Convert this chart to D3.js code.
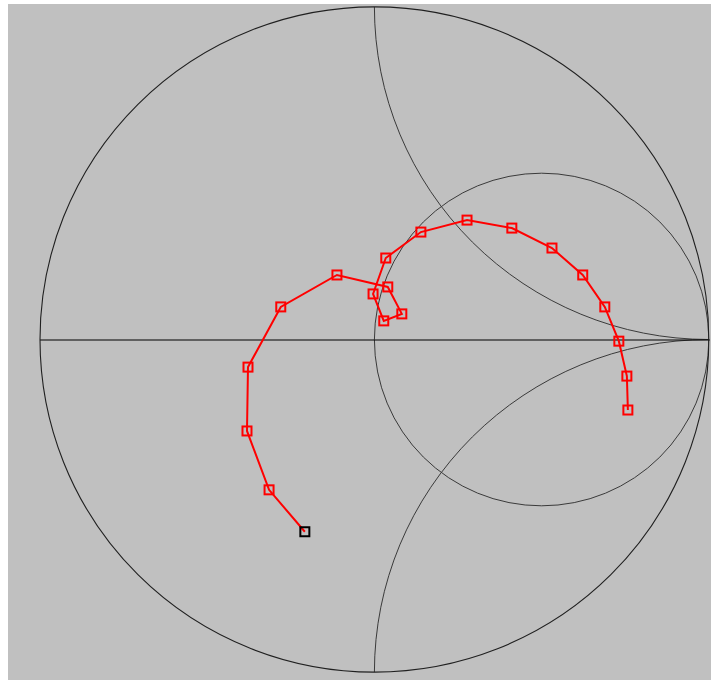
<!DOCTYPE html>
<html>
<head>
<meta charset="utf-8">
<script src="https://cdn.jsdelivr.net/npm/d3@7"></script>
<style>
  html, body { margin: 0; padding: 0; background: #ffffff; }
  svg { display: block; }
</style>
</head>
<body>
<svg id="chart" width="711" height="680"></svg>
<script>
// Reflection coefficient trace (real and imaginary parts), in sweep order
const gammaRe = [-0.208, -0.315, -0.381, -0.378, -0.280, -0.112, 0.040, 0.082, 0.028, -0.004,
                 0.034, 0.139, 0.277, 0.411, 0.531, 0.623, 0.689, 0.731, 0.755, 0.758];
const gammaIm = [-0.578, -0.452, -0.275, -0.083, 0.098, 0.194, 0.158, 0.077, 0.056, 0.137,
                 0.245, 0.323, 0.359, 0.335, 0.275, 0.194, 0.098, -0.005, -0.110, -0.212];
// Index of the marker drawn as the selected one
const selectedIndex = [0];

const W = 711, H = 680;
const cx = 374.4, cy = 339.5, rx = 334.4, ry = 332.6;

const svg = d3.select("#chart");

// Plot background
svg.append("rect")
  .attr("x", 8).attr("y", 4)
  .attr("width", W - 8).attr("height", H - 4)
  .attr("fill", "#c0c0c0");

const x = d3.scaleLinear().domain([-1, 1]).range([cx - rx, cx + rx]);
const y = d3.scaleLinear().domain([-1, 1]).range([cy + ry, cy - ry]);

const sx = v => x(v) - x(0);
const sy = v => y(0) - y(v);

svg.append("defs").append("clipPath").attr("id", "unit")
  .append("ellipse")
  .attr("cx", x(0)).attr("cy", y(0))
  .attr("rx", sx(1)).attr("ry", sy(1));

const grid = svg.append("g").attr("fill", "none");

// Constant-resistance r = 1 circle and constant-reactance x = ±1 arcs
const gridCircles = [
  { c: [0.5, 0], r: 0.5 },
  { c: [1, 1], r: 1 },
  { c: [1, -1], r: 1 }
];
grid.append("g").attr("clip-path", "url(#unit)")
  .selectAll("ellipse").data(gridCircles).join("ellipse")
  .attr("cx", d => x(d.c[0])).attr("cy", d => y(d.c[1]))
  .attr("rx", d => sx(d.r)).attr("ry", d => sy(d.r))
  .attr("stroke", "#3a3a3a").attr("stroke-width", 1);

// Real axis
grid.append("line")
  .attr("x1", x(-1)).attr("x2", x(1) + 1)
  .attr("y1", y(0) + 0.5).attr("y2", y(0) + 0.5)
  .attr("stroke", "#000").attr("stroke-width", 1.2);

// Unit circle
grid.append("ellipse")
  .attr("cx", x(0)).attr("cy", y(0))
  .attr("rx", sx(1)).attr("ry", sy(1))
  .attr("stroke", "#202020").attr("stroke-width", 1.1);

const pts = gammaRe.map((re, i) => ({ re, im: gammaIm[i], i }));

svg.append("path")
  .datum(pts)
  .attr("fill", "none")
  .attr("stroke", "#ff0000")
  .attr("stroke-width", 2)
  .attr("d", d3.line().x(d => x(d.re)).y(d => y(d.im)));

const m = 9;
svg.append("g").selectAll("rect").data(pts).join("rect")
  .attr("x", d => x(d.re) - m / 2)
  .attr("y", d => y(d.im) - m / 2)
  .attr("width", m).attr("height", m)
  .attr("fill", "none")
  .attr("stroke", d => selectedIndex.includes(d.i) ? "#000000" : "#ff0000")
  .attr("stroke-width", 2);
</script>
</body>
</html>
